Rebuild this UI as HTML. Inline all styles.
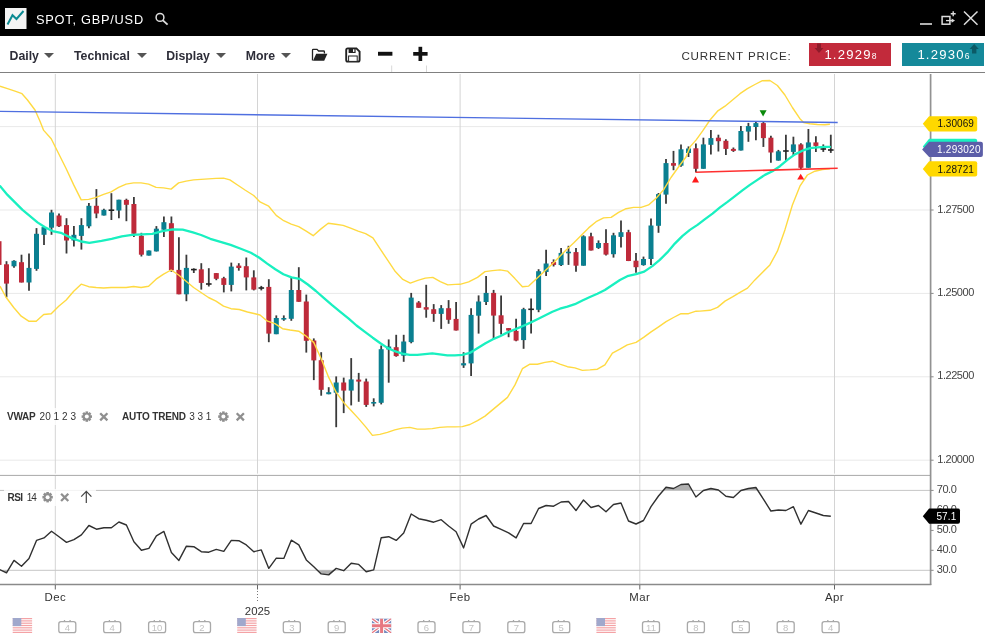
<!DOCTYPE html>
<html lang="en"><head><meta charset="utf-8"><title>SPOT, GBP/USD</title>
<style>
html,body{margin:0;padding:0;background:#fff;}
body{width:985px;height:637px;position:relative;overflow:hidden;font-family:"Liberation Sans",sans-serif;}
#titlebar{position:absolute;left:0;top:0;width:985px;height:35.7px;background:#000;}
#title{position:absolute;left:36px;top:12.7px;color:#fff;font-size:12.8px;letter-spacing:0.75px;line-height:14px;white-space:nowrap;}
#toolbar{position:absolute;left:0;top:35.7px;width:985px;height:36.4px;background:#fff;border-bottom:1.4px solid #808080;}
.tb{position:absolute;top:48.8px;font-weight:bold;font-size:12.3px;color:#2d2d38;line-height:15px;white-space:nowrap;}
.caret{position:absolute;top:53.3px;width:0;height:0;border-left:5px solid transparent;border-right:5px solid transparent;border-top:5px solid #555;}
#cp{position:absolute;left:681.4px;top:49.4px;font-size:11.6px;letter-spacing:0.85px;color:#333;line-height:14px;white-space:nowrap;}
.pbox{position:absolute;top:43.2px;height:22.5px;color:#fff;font-size:13.1px;line-height:22.5px;white-space:nowrap;letter-spacing:1.2px;}
.pbox small{font-size:8.6px;letter-spacing:0;}
svg{position:absolute;left:0;top:0;}
</style></head><body>
<div id="titlebar"></div>
<div id="title">SPOT, GBP/USD</div>
<div id="toolbar"></div>
<div class="tb" style="left:9.5px">Daily</div><div class="caret" style="left:44.4px"></div>
<div class="tb" style="left:74px">Technical</div><div class="caret" style="left:137px"></div>
<div class="tb" style="left:166.2px">Display</div><div class="caret" style="left:215.8px"></div>
<div class="tb" style="left:245.7px">More</div><div class="caret" style="left:281.3px"></div>
<div id="cp">CURRENT PRICE:</div>
<div class="pbox" style="left:809.4px;width:81.7px;background:#c22a3b;"><span style="position:absolute;left:15px;top:0.6px">1.2929<small>8</small></span></div>
<div class="pbox" style="left:902px;width:82.1px;background:#15899a;"><span style="position:absolute;left:15.4px;top:0.6px">1.2930<small>6</small></span></div>
<svg width="985" height="637" viewBox="0 0 985 637">
<!-- header icons -->
<rect x="5" y="8" width="21.5" height="21" fill="#f4f4f4"/>
<path d="M7.5 24.5 L12.5 15.2 L16.5 19 L23.5 11" fill="none" stroke="#0d8b93" stroke-width="2"/>
<circle cx="160" cy="17.4" r="3.9" fill="none" stroke="#ddd" stroke-width="1.5"/>
<path d="M162.9 20.4 L167.6 24.6" stroke="#ddd" stroke-width="1.9"/>
<path d="M920 24 H932" stroke="#ddd" stroke-width="1.6"/>
<rect x="942.1" y="16.5" width="7.8" height="7.7" fill="none" stroke="#ddd" stroke-width="1.5"/>
<path d="M946 20.6 H952" stroke="#ddd" stroke-width="1.3" fill="none"/><path d="M951.6 18.4 L955 20.6 L951.6 22.8 Z" fill="#ddd"/><path d="M953.2 11.2 V16.2 M950.7 13.7 H955.7" stroke="#ddd" stroke-width="1.4" fill="none"/>
<path d="M964 11.5 L977.5 24.8 M977.5 11.5 L964 24.8" stroke="#ddd" stroke-width="1.5"/>
<!-- toolbar icons -->
<path d="M312.5 60.6 V50.2 Q312.5 49.4 313.3 49.4 H317 L318.6 51 H323.6 Q324.4 51 324.4 51.8 V53.4" fill="none" stroke="#222" stroke-width="1.3"/>
<path d="M313 60.8 L316.2 53.8 H327.4 L324.2 60.8 Z" fill="#222"/>
<path d="M347.8 48.4 H356.4 L359.6 51.6 V60 Q359.6 61.6 358 61.6 H347.8 Q346.2 61.6 346.2 60 V50 Q346.2 48.4 347.8 48.4 Z" fill="none" stroke="#222" stroke-width="1.9"/>
<rect x="348.6" y="48.6" width="7" height="4.4" fill="#222"/><rect x="353" y="49.3" width="1.4" height="2.6" fill="#fff"/>
<rect x="348.6" y="56" width="8.6" height="5.4" fill="#fff" stroke="#222" stroke-width="1"/>
<rect x="378" y="51.8" width="14.4" height="3.9" fill="#111"/>
<rect x="413.2" y="52" width="14.4" height="3.7" fill="#111"/><rect x="418.5" y="46.8" width="3.7" height="14.2" fill="#111"/>
<path d="M391.7 65.5 V72 M426.5 65.5 V72" stroke="#d8d8d8" stroke-width="1"/>
<!-- price arrows -->
<path d="M817 43.6 H821 V48 H823.4 L819 53 L814.6 48 H817 Z" fill="#8e1c2b"/>
<path d="M972 53.5 H976.4 V49 H978.8 L974.2 44 L969.6 49 H972 Z" fill="#0b5a66"/>
<line x1="0" x2="930.6" y1="126.6" y2="126.6" stroke="#e9e9e9" stroke-width="1"/>
<line x1="0" x2="930.6" y1="210.0" y2="210.0" stroke="#e9e9e9" stroke-width="1"/>
<line x1="0" x2="930.6" y1="293.4" y2="293.4" stroke="#e9e9e9" stroke-width="1"/>
<line x1="0" x2="930.6" y1="376.8" y2="376.8" stroke="#e9e9e9" stroke-width="1"/>
<line x1="0" x2="930.6" y1="460.2" y2="460.2" stroke="#e9e9e9" stroke-width="1"/>
<line x1="55.3" x2="55.3" y1="74" y2="473.6" stroke="#d4d4d4" stroke-width="1"/>
<line x1="55.3" x2="55.3" y1="476" y2="584" stroke="#d4d4d4" stroke-width="1"/>
<line x1="257.5" x2="257.5" y1="74" y2="473.6" stroke="#d4d4d4" stroke-width="1"/>
<line x1="257.5" x2="257.5" y1="476" y2="584" stroke="#d4d4d4" stroke-width="1"/>
<line x1="460.1" x2="460.1" y1="74" y2="473.6" stroke="#d4d4d4" stroke-width="1"/>
<line x1="460.1" x2="460.1" y1="476" y2="584" stroke="#d4d4d4" stroke-width="1"/>
<line x1="639.8" x2="639.8" y1="74" y2="473.6" stroke="#d4d4d4" stroke-width="1"/>
<line x1="639.8" x2="639.8" y1="476" y2="584" stroke="#d4d4d4" stroke-width="1"/>
<line x1="834.5" x2="834.5" y1="74" y2="473.6" stroke="#d4d4d4" stroke-width="1"/>
<line x1="834.5" x2="834.5" y1="476" y2="584" stroke="#d4d4d4" stroke-width="1"/>
<line x1="0" x2="930.6" y1="475.4" y2="475.4" stroke="#a8a8a8" stroke-width="1"/>
<line x1="0" x2="930.6" y1="490.4" y2="490.4" stroke="#c6c6c6" stroke-width="1"/>
<line x1="0" x2="930.6" y1="570.3" y2="570.3" stroke="#c6c6c6" stroke-width="1"/>
<line x1="-1" x2="-1" y1="241.2" y2="264.9" stroke="#3a3a3a" stroke-width="1.8"/>
<rect x="-3.5" y="241.2" width="5" height="23.7" fill="#be2a3a"/>
<line x1="6.5" x2="6.5" y1="261.2" y2="297.4" stroke="#3a3a3a" stroke-width="1.8"/>
<rect x="4" y="264.3" width="5" height="19.3" fill="#be2a3a"/>
<line x1="14" x2="14" y1="260.2" y2="267.7" stroke="#3a3a3a" stroke-width="1.8"/>
<rect x="11.5" y="260.8" width="5" height="5.5" fill="#0a7f90"/>
<line x1="21.5" x2="21.5" y1="254.7" y2="282.5" stroke="#3a3a3a" stroke-width="1.8"/>
<rect x="19" y="262.2" width="5" height="20.3" fill="#be2a3a"/>
<line x1="29" x2="29" y1="253.5" y2="290.7" stroke="#3a3a3a" stroke-width="1.8"/>
<rect x="26.5" y="267.9" width="5" height="14.6" fill="#0a7f90"/>
<line x1="36.5" x2="36.5" y1="228.1" y2="270.8" stroke="#3a3a3a" stroke-width="1.8"/>
<rect x="34" y="233.8" width="5" height="35.1" fill="#0a7f90"/>
<line x1="44" x2="44" y1="227.1" y2="245" stroke="#3a3a3a" stroke-width="1.8"/>
<rect x="41.5" y="227.1" width="5" height="7.7" fill="#0a7f90"/>
<line x1="51.5" x2="51.5" y1="209.8" y2="234.8" stroke="#3a3a3a" stroke-width="1.8"/>
<rect x="49" y="212.5" width="5" height="15.2" fill="#0a7f90"/>
<line x1="59" x2="59" y1="213.5" y2="227.1" stroke="#3a3a3a" stroke-width="1.8"/>
<rect x="56.5" y="215.5" width="5" height="10.8" fill="#be2a3a"/>
<line x1="66.5" x2="66.5" y1="218.2" y2="253.5" stroke="#3a3a3a" stroke-width="1.8"/>
<rect x="64" y="225.1" width="5" height="15.4" fill="#be2a3a"/>
<line x1="73.9" x2="73.9" y1="226.1" y2="246.6" stroke="#3a3a3a" stroke-width="1.8"/>
<rect x="71.4" y="234.8" width="5" height="5.7" fill="#0a7f90"/>
<line x1="81.4" x2="81.4" y1="218.2" y2="249.6" stroke="#3a3a3a" stroke-width="1.8"/>
<rect x="78.9" y="225.1" width="5" height="10.8" fill="#0a7f90"/>
<line x1="88.9" x2="88.9" y1="202.9" y2="228.3" stroke="#3a3a3a" stroke-width="1.8"/>
<rect x="86.4" y="205.8" width="5" height="20.5" fill="#0a7f90"/>
<line x1="96.4" x2="96.4" y1="189.1" y2="218.2" stroke="#3a3a3a" stroke-width="1.8"/>
<rect x="93.9" y="205.8" width="5" height="7.7" fill="#be2a3a"/>
<line x1="103.9" x2="103.9" y1="208.8" y2="215.5" stroke="#3a3a3a" stroke-width="1.8"/>
<rect x="101.4" y="209.8" width="5" height="5.7" fill="#0a7f90"/>
<line x1="111.4" x2="111.4" y1="193.2" y2="220" stroke="#3a3a3a" stroke-width="1.8"/>
<line x1="108.6" x2="114.2" y1="210.2" y2="210.2" stroke="#222" stroke-width="1.6"/>
<line x1="118.9" x2="118.9" y1="199.7" y2="218.2" stroke="#3a3a3a" stroke-width="1.8"/>
<rect x="116.4" y="199.7" width="5" height="10.8" fill="#0a7f90"/>
<line x1="126.4" x2="126.4" y1="198.7" y2="221.2" stroke="#3a3a3a" stroke-width="1.8"/>
<rect x="123.9" y="199.9" width="5" height="4.9" fill="#be2a3a"/>
<line x1="133.9" x2="133.9" y1="196.9" y2="236.9" stroke="#3a3a3a" stroke-width="1.8"/>
<rect x="131.4" y="204" width="5" height="29.8" fill="#be2a3a"/>
<line x1="141.4" x2="141.4" y1="232.8" y2="256.5" stroke="#3a3a3a" stroke-width="1.8"/>
<rect x="138.9" y="235.8" width="5" height="18.9" fill="#be2a3a"/>
<line x1="148.9" x2="148.9" y1="250.5" y2="255.5" stroke="#3a3a3a" stroke-width="1.8"/>
<rect x="146.4" y="250.5" width="5" height="5.1" fill="#0a7f90"/>
<line x1="156.4" x2="156.4" y1="226.1" y2="251.5" stroke="#3a3a3a" stroke-width="1.8"/>
<rect x="153.9" y="228.7" width="5" height="22.7" fill="#0a7f90"/>
<line x1="163.9" x2="163.9" y1="216.5" y2="236.9" stroke="#3a3a3a" stroke-width="1.8"/>
<rect x="161.4" y="222.2" width="5" height="7.5" fill="#0a7f90"/>
<line x1="171.4" x2="171.4" y1="216.5" y2="271.8" stroke="#3a3a3a" stroke-width="1.8"/>
<rect x="168.9" y="223.2" width="5" height="47.1" fill="#be2a3a"/>
<line x1="178.9" x2="178.9" y1="237.3" y2="294.3" stroke="#3a3a3a" stroke-width="1.8"/>
<rect x="176.4" y="269.9" width="5" height="24.4" fill="#be2a3a"/>
<line x1="186.4" x2="186.4" y1="254.7" y2="301.2" stroke="#3a3a3a" stroke-width="1.8"/>
<rect x="183.9" y="267.9" width="5" height="26.4" fill="#0a7f90"/>
<line x1="193.8" x2="193.8" y1="268.3" y2="273" stroke="#3a3a3a" stroke-width="1.8"/>
<line x1="191" x2="196.7" y1="269.6" y2="269.6" stroke="#222" stroke-width="1.6"/>
<line x1="201.3" x2="201.3" y1="263.2" y2="289.6" stroke="#3a3a3a" stroke-width="1.8"/>
<rect x="198.8" y="269.3" width="5" height="13.6" fill="#be2a3a"/>
<line x1="208.8" x2="208.8" y1="268.2" y2="286.5" stroke="#3a3a3a" stroke-width="1.8"/>
<line x1="206" x2="211.6" y1="284" y2="284" stroke="#222" stroke-width="1.6"/>
<line x1="216.3" x2="216.3" y1="273.1" y2="280.2" stroke="#3a3a3a" stroke-width="1.8"/>
<rect x="213.8" y="273.1" width="5" height="5.7" fill="#be2a3a"/>
<line x1="223.8" x2="223.8" y1="276.8" y2="292.4" stroke="#3a3a3a" stroke-width="1.8"/>
<rect x="221.3" y="278.2" width="5" height="6.7" fill="#be2a3a"/>
<line x1="231.3" x2="231.3" y1="262.6" y2="291.4" stroke="#3a3a3a" stroke-width="1.8"/>
<rect x="228.8" y="266.6" width="5" height="18.3" fill="#0a7f90"/>
<line x1="238.8" x2="238.8" y1="263.2" y2="270.7" stroke="#3a3a3a" stroke-width="1.8"/>
<rect x="236.3" y="265.6" width="5" height="2.4" fill="#be2a3a"/>
<line x1="246.3" x2="246.3" y1="257.5" y2="290.4" stroke="#3a3a3a" stroke-width="1.8"/>
<rect x="243.8" y="266.2" width="5" height="11.2" fill="#be2a3a"/>
<line x1="253.8" x2="253.8" y1="270.3" y2="290.4" stroke="#3a3a3a" stroke-width="1.8"/>
<rect x="251.3" y="277.4" width="5" height="12.2" fill="#be2a3a"/>
<line x1="261.3" x2="261.3" y1="285.9" y2="290.4" stroke="#3a3a3a" stroke-width="1.8"/>
<line x1="258.5" x2="264.1" y1="288" y2="288" stroke="#222" stroke-width="1.6"/>
<line x1="268.8" x2="268.8" y1="279.2" y2="342.2" stroke="#3a3a3a" stroke-width="1.8"/>
<rect x="266.3" y="286.9" width="5" height="46.7" fill="#be2a3a"/>
<line x1="276.3" x2="276.3" y1="315.4" y2="334.2" stroke="#3a3a3a" stroke-width="1.8"/>
<rect x="273.8" y="318" width="5" height="16.2" fill="#0a7f90"/>
<line x1="283.8" x2="283.8" y1="315.4" y2="320.8" stroke="#3a3a3a" stroke-width="1.8"/>
<rect x="281.3" y="318" width="5" height="1.6" fill="#0a7f90"/>
<line x1="291.3" x2="291.3" y1="277.4" y2="320.8" stroke="#3a3a3a" stroke-width="1.8"/>
<rect x="288.8" y="290" width="5" height="28.8" fill="#0a7f90"/>
<line x1="298.8" x2="298.8" y1="267.2" y2="301.8" stroke="#3a3a3a" stroke-width="1.8"/>
<rect x="296.3" y="290" width="5" height="11.8" fill="#be2a3a"/>
<line x1="306.3" x2="306.3" y1="294.6" y2="352.6" stroke="#3a3a3a" stroke-width="1.8"/>
<rect x="303.8" y="301.5" width="5" height="39.3" fill="#be2a3a"/>
<line x1="313.8" x2="313.8" y1="338.4" y2="380.1" stroke="#3a3a3a" stroke-width="1.8"/>
<rect x="311.3" y="340.5" width="5" height="19.9" fill="#be2a3a"/>
<line x1="321.2" x2="321.2" y1="352.2" y2="395.7" stroke="#3a3a3a" stroke-width="1.8"/>
<rect x="318.7" y="360.2" width="5" height="29.6" fill="#be2a3a"/>
<line x1="328.7" x2="328.7" y1="387.2" y2="394.3" stroke="#3a3a3a" stroke-width="1.8"/>
<rect x="326.2" y="392.2" width="5" height="2" fill="#0a7f90"/>
<line x1="336.2" x2="336.2" y1="376.4" y2="427.2" stroke="#3a3a3a" stroke-width="1.8"/>
<rect x="333.7" y="382.5" width="5" height="10.2" fill="#0a7f90"/>
<line x1="343.7" x2="343.7" y1="377.6" y2="413.1" stroke="#3a3a3a" stroke-width="1.8"/>
<rect x="341.2" y="382.5" width="5" height="8.1" fill="#be2a3a"/>
<line x1="351.2" x2="351.2" y1="358.1" y2="405.4" stroke="#3a3a3a" stroke-width="1.8"/>
<rect x="348.7" y="379.4" width="5" height="11.2" fill="#0a7f90"/>
<line x1="358.7" x2="358.7" y1="372.9" y2="401.8" stroke="#3a3a3a" stroke-width="1.8"/>
<rect x="356.2" y="379.6" width="5" height="2" fill="#be2a3a"/>
<line x1="366.2" x2="366.2" y1="378.6" y2="406.9" stroke="#3a3a3a" stroke-width="1.8"/>
<rect x="363.7" y="381.5" width="5" height="23.4" fill="#be2a3a"/>
<line x1="373.7" x2="373.7" y1="398.3" y2="406.4" stroke="#3a3a3a" stroke-width="1.8"/>
<rect x="371.2" y="402" width="5" height="1.6" fill="#0a7f90"/>
<line x1="381.2" x2="381.2" y1="345.5" y2="404.4" stroke="#3a3a3a" stroke-width="1.8"/>
<rect x="378.7" y="349.2" width="5" height="53.6" fill="#0a7f90"/>
<line x1="388.7" x2="388.7" y1="339.4" y2="382.7" stroke="#3a3a3a" stroke-width="1.8"/>
<rect x="386.2" y="346.5" width="5" height="3" fill="#0a7f90"/>
<line x1="396.2" x2="396.2" y1="334.8" y2="356.7" stroke="#3a3a3a" stroke-width="1.8"/>
<rect x="393.7" y="347.2" width="5" height="8.9" fill="#be2a3a"/>
<line x1="403.7" x2="403.7" y1="334.8" y2="361.8" stroke="#3a3a3a" stroke-width="1.8"/>
<rect x="401.2" y="341.5" width="5" height="14.2" fill="#0a7f90"/>
<line x1="411.2" x2="411.2" y1="292.9" y2="343.3" stroke="#3a3a3a" stroke-width="1.8"/>
<rect x="408.7" y="297.6" width="5" height="44.5" fill="#0a7f90"/>
<line x1="418.7" x2="418.7" y1="301.1" y2="307.8" stroke="#3a3a3a" stroke-width="1.8"/>
<rect x="416.2" y="302.5" width="5" height="5.3" fill="#be2a3a"/>
<line x1="426.2" x2="426.2" y1="284.8" y2="317.7" stroke="#3a3a3a" stroke-width="1.8"/>
<rect x="423.7" y="307.2" width="5" height="2.4" fill="#be2a3a"/>
<line x1="433.7" x2="433.7" y1="304.1" y2="321.8" stroke="#3a3a3a" stroke-width="1.8"/>
<rect x="431.2" y="309.2" width="5" height="4.7" fill="#be2a3a"/>
<line x1="441.2" x2="441.2" y1="305.1" y2="328.9" stroke="#3a3a3a" stroke-width="1.8"/>
<rect x="438.7" y="308.2" width="5" height="5.7" fill="#0a7f90"/>
<line x1="448.6" x2="448.6" y1="300.1" y2="323.8" stroke="#3a3a3a" stroke-width="1.8"/>
<rect x="446.1" y="308.2" width="5" height="11.6" fill="#be2a3a"/>
<line x1="456.1" x2="456.1" y1="302.1" y2="330.5" stroke="#3a3a3a" stroke-width="1.8"/>
<rect x="453.6" y="318.9" width="5" height="11.6" fill="#be2a3a"/>
<line x1="463.6" x2="463.6" y1="352.2" y2="367.9" stroke="#3a3a3a" stroke-width="1.8"/>
<rect x="461.1" y="363.2" width="5" height="2.2" fill="#0a7f90"/>
<line x1="471.1" x2="471.1" y1="308.2" y2="376" stroke="#3a3a3a" stroke-width="1.8"/>
<rect x="468.6" y="314.9" width="5" height="48.5" fill="#0a7f90"/>
<line x1="478.6" x2="478.6" y1="295.4" y2="333.6" stroke="#3a3a3a" stroke-width="1.8"/>
<rect x="476.1" y="301.5" width="5" height="14.2" fill="#0a7f90"/>
<line x1="486.1" x2="486.1" y1="276.1" y2="305.1" stroke="#3a3a3a" stroke-width="1.8"/>
<rect x="483.6" y="292.9" width="5" height="9.1" fill="#0a7f90"/>
<line x1="493.6" x2="493.6" y1="289.9" y2="339" stroke="#3a3a3a" stroke-width="1.8"/>
<rect x="491.1" y="292.9" width="5" height="22.7" fill="#be2a3a"/>
<line x1="501.1" x2="501.1" y1="295.4" y2="334.6" stroke="#3a3a3a" stroke-width="1.8"/>
<rect x="498.6" y="315.3" width="5" height="8.5" fill="#be2a3a"/>
<line x1="508.6" x2="508.6" y1="328.1" y2="337.2" stroke="#3a3a3a" stroke-width="1.8"/>
<rect x="506.1" y="328.1" width="5" height="2.4" fill="#be2a3a"/>
<line x1="516.1" x2="516.1" y1="318.7" y2="341.3" stroke="#3a3a3a" stroke-width="1.8"/>
<rect x="513.6" y="330.9" width="5" height="9.7" fill="#be2a3a"/>
<line x1="523.6" x2="523.6" y1="307.8" y2="348.8" stroke="#3a3a3a" stroke-width="1.8"/>
<rect x="521.1" y="309.2" width="5" height="30.9" fill="#0a7f90"/>
<line x1="531.1" x2="531.1" y1="298.4" y2="333.6" stroke="#3a3a3a" stroke-width="1.8"/>
<line x1="528.3" x2="533.9" y1="309.3" y2="309.3" stroke="#222" stroke-width="1.6"/>
<line x1="538.6" x2="538.6" y1="269.2" y2="312.2" stroke="#3a3a3a" stroke-width="1.8"/>
<rect x="536.1" y="271.2" width="5" height="38.6" fill="#0a7f90"/>
<line x1="546.1" x2="546.1" y1="249.7" y2="276.1" stroke="#3a3a3a" stroke-width="1.8"/>
<rect x="543.6" y="263.5" width="5" height="8.5" fill="#0a7f90"/>
<line x1="553.6" x2="553.6" y1="259.4" y2="266.5" stroke="#3a3a3a" stroke-width="1.8"/>
<rect x="551.1" y="262.1" width="5" height="2.8" fill="#be2a3a"/>
<line x1="561.1" x2="561.1" y1="247.9" y2="266.1" stroke="#3a3a3a" stroke-width="1.8"/>
<rect x="558.6" y="252.9" width="5" height="12.2" fill="#0a7f90"/>
<line x1="568.5" x2="568.5" y1="245.8" y2="264.9" stroke="#3a3a3a" stroke-width="1.8"/>
<rect x="566" y="251.7" width="5" height="1.6" fill="#0a7f90"/>
<line x1="576" x2="576" y1="248.1" y2="271.8" stroke="#3a3a3a" stroke-width="1.8"/>
<rect x="573.5" y="252.1" width="5" height="13.6" fill="#be2a3a"/>
<line x1="583.5" x2="583.5" y1="235.3" y2="265.7" stroke="#3a3a3a" stroke-width="1.8"/>
<rect x="581" y="236.3" width="5" height="29.4" fill="#0a7f90"/>
<line x1="591" x2="591" y1="232.8" y2="250.5" stroke="#3a3a3a" stroke-width="1.8"/>
<rect x="588.5" y="236.3" width="5" height="14.2" fill="#be2a3a"/>
<line x1="598.5" x2="598.5" y1="240.4" y2="248.9" stroke="#3a3a3a" stroke-width="1.8"/>
<rect x="596" y="243" width="5" height="4.9" fill="#0a7f90"/>
<line x1="606" x2="606" y1="229.2" y2="255.6" stroke="#3a3a3a" stroke-width="1.8"/>
<rect x="603.5" y="243" width="5" height="11.6" fill="#be2a3a"/>
<line x1="613.5" x2="613.5" y1="232.8" y2="257.6" stroke="#3a3a3a" stroke-width="1.8"/>
<rect x="611" y="235.3" width="5" height="18.9" fill="#0a7f90"/>
<line x1="621" x2="621" y1="220.5" y2="247.5" stroke="#3a3a3a" stroke-width="1.8"/>
<rect x="618.5" y="232.2" width="5" height="4.7" fill="#0a7f90"/>
<line x1="628.5" x2="628.5" y1="229.8" y2="261.1" stroke="#3a3a3a" stroke-width="1.8"/>
<rect x="626" y="232.2" width="5" height="28.8" fill="#be2a3a"/>
<line x1="636" x2="636" y1="252.9" y2="272.8" stroke="#3a3a3a" stroke-width="1.8"/>
<rect x="633.5" y="260.7" width="5" height="6.5" fill="#be2a3a"/>
<line x1="643.5" x2="643.5" y1="256.6" y2="265.7" stroke="#3a3a3a" stroke-width="1.8"/>
<rect x="641" y="259" width="5" height="6.1" fill="#0a7f90"/>
<line x1="651" x2="651" y1="218.4" y2="265.1" stroke="#3a3a3a" stroke-width="1.8"/>
<rect x="648.5" y="225.5" width="5" height="33.5" fill="#0a7f90"/>
<line x1="658.5" x2="658.5" y1="193" y2="232.8" stroke="#3a3a3a" stroke-width="1.8"/>
<rect x="656" y="194.1" width="5" height="31.7" fill="#0a7f90"/>
<line x1="666" x2="666" y1="159" y2="203.7" stroke="#3a3a3a" stroke-width="1.8"/>
<rect x="663.5" y="163.1" width="5" height="31.5" fill="#0a7f90"/>
<line x1="673.5" x2="673.5" y1="150.9" y2="170.2" stroke="#3a3a3a" stroke-width="1.8"/>
<rect x="671" y="163.1" width="5" height="2.6" fill="#be2a3a"/>
<line x1="681" x2="681" y1="144.4" y2="166.8" stroke="#3a3a3a" stroke-width="1.8"/>
<rect x="678.5" y="149.3" width="5" height="16.4" fill="#0a7f90"/>
<line x1="688.5" x2="688.5" y1="146.4" y2="157" stroke="#3a3a3a" stroke-width="1.8"/>
<rect x="686" y="148.5" width="5" height="4.5" fill="#0a7f90"/>
<line x1="695.9" x2="695.9" y1="143.4" y2="172.2" stroke="#3a3a3a" stroke-width="1.8"/>
<rect x="693.4" y="148.3" width="5" height="20.5" fill="#be2a3a"/>
<line x1="703.4" x2="703.4" y1="137.7" y2="168.8" stroke="#3a3a3a" stroke-width="1.8"/>
<rect x="700.9" y="144.4" width="5" height="24.4" fill="#0a7f90"/>
<line x1="710.9" x2="710.9" y1="130" y2="154.6" stroke="#3a3a3a" stroke-width="1.8"/>
<rect x="708.4" y="138.1" width="5" height="6.7" fill="#0a7f90"/>
<line x1="718.4" x2="718.4" y1="134.7" y2="151.5" stroke="#3a3a3a" stroke-width="1.8"/>
<rect x="715.9" y="137.7" width="5" height="3.5" fill="#be2a3a"/>
<line x1="725.9" x2="725.9" y1="139.3" y2="155" stroke="#3a3a3a" stroke-width="1.8"/>
<rect x="723.4" y="140.8" width="5" height="8.1" fill="#be2a3a"/>
<line x1="733.4" x2="733.4" y1="147.5" y2="151.9" stroke="#3a3a3a" stroke-width="1.8"/>
<rect x="730.9" y="148.9" width="5" height="2" fill="#be2a3a"/>
<line x1="740.9" x2="740.9" y1="126.1" y2="150.5" stroke="#3a3a3a" stroke-width="1.8"/>
<rect x="738.4" y="131" width="5" height="19.5" fill="#0a7f90"/>
<line x1="748.4" x2="748.4" y1="122.9" y2="141.8" stroke="#3a3a3a" stroke-width="1.8"/>
<rect x="745.9" y="126.1" width="5" height="5.5" fill="#0a7f90"/>
<line x1="755.9" x2="755.9" y1="121.5" y2="140.2" stroke="#3a3a3a" stroke-width="1.8"/>
<rect x="753.4" y="123.1" width="5" height="3.9" fill="#0a7f90"/>
<line x1="763.4" x2="763.4" y1="121.9" y2="146.9" stroke="#3a3a3a" stroke-width="1.8"/>
<rect x="760.9" y="123.1" width="5" height="15" fill="#be2a3a"/>
<line x1="770.9" x2="770.9" y1="135.7" y2="162.7" stroke="#3a3a3a" stroke-width="1.8"/>
<rect x="768.4" y="137.7" width="5" height="14.8" fill="#be2a3a"/>
<line x1="778.4" x2="778.4" y1="149.9" y2="160.7" stroke="#3a3a3a" stroke-width="1.8"/>
<rect x="775.9" y="151.3" width="5" height="9.3" fill="#0a7f90"/>
<line x1="785.9" x2="785.9" y1="134.7" y2="160.7" stroke="#3a3a3a" stroke-width="1.8"/>
<line x1="783.1" x2="788.7" y1="151" y2="151" stroke="#222" stroke-width="1.6"/>
<line x1="793.4" x2="793.4" y1="136.7" y2="155.6" stroke="#3a3a3a" stroke-width="1.8"/>
<rect x="790.9" y="144.4" width="5" height="7.5" fill="#0a7f90"/>
<line x1="800.9" x2="800.9" y1="143.2" y2="169.2" stroke="#3a3a3a" stroke-width="1.8"/>
<rect x="798.4" y="144.4" width="5" height="23.4" fill="#be2a3a"/>
<line x1="808.4" x2="808.4" y1="129" y2="167.8" stroke="#3a3a3a" stroke-width="1.8"/>
<rect x="805.9" y="142.4" width="5" height="25.4" fill="#0a7f90"/>
<line x1="815.9" x2="815.9" y1="136.3" y2="151.9" stroke="#3a3a3a" stroke-width="1.8"/>
<rect x="813.4" y="142.4" width="5" height="3.5" fill="#be2a3a"/>
<line x1="823.3" x2="823.3" y1="144.4" y2="151.9" stroke="#3a3a3a" stroke-width="1.8"/>
<line x1="820.5" x2="826.1" y1="149" y2="149" stroke="#222" stroke-width="1.6"/>
<line x1="830.8" x2="830.8" y1="134.7" y2="152.9" stroke="#3a3a3a" stroke-width="1.8"/>
<line x1="828" x2="833.6" y1="150" y2="150" stroke="#222" stroke-width="1.6"/>
<path d="M0 86.2 L7.5 88.7 L15 91.2 L22 93.7 L27.5 100 L35 110 L40 121.2 L43.7 130.4 L51.2 138.7 L58.7 153.7 L66.2 168.7 L73.7 184.9 L81.2 199.9 L88.7 199.4 L96.2 197.4 L103.6 194.4 L111.1 191.9 L118.6 187.4 L126.1 184.1 L133.6 182.9 L141.1 182.9 L148.6 184.1 L156.1 187.4 L163.6 187.9 L171.1 189.1 L178.6 182.9 L186.1 181.1 L193.6 179.9 L201 179.4 L208.5 178.9 L216 178.4 L223.5 178.1 L229.9 179.9 L237.5 185 L245 190 L253.7 195.5 L260 201.9 L268.7 206.2 L276.2 215.4 L283.7 220.7 L291.2 224.2 L298.7 226.7 L306.2 231.2 L313.2 235.7 L320.4 229.4 L328.2 223.2 L335.6 224.2 L343.1 225.4 L350.6 228.2 L358.1 231.2 L365.6 233.7 L372.9 237.9 L380.3 249.2 L387.8 260.4 L395.3 271.6 L402.8 279.4 L410.3 283.1 L417.8 280.4 L425.3 278.1 L432.8 277.4 L440.3 281.6 L447.8 284.9 L455.3 284.4 L460 284.3 L468.7 281.8 L477.5 277.4 L485 271.6 L492.5 270.6 L500 269.9 L507.5 271.1 L514.9 278.6 L522.4 286.8 L528.7 286.1 L536.2 279.1 L543.7 271.9 L551.2 264.9 L558.7 257.4 L566.1 249.9 L573.6 243.1 L581.1 235.4 L588.6 227.9 L596.1 221.7 L603.6 217.9 L611.1 217.4 L618.6 212.4 L626.1 208.7 L633.6 207.4 L641.1 207.4 L648.6 204.9 L656.1 198.2 L663.5 189.9 L671 177.5 L678.5 167 L686 157 L690 146.9 L696.2 139.9 L702.5 131.2 L710 120 L717.5 111.2 L725 106.2 L732.5 100 L740 93.7 L747.4 88.7 L754.9 84.5 L762.4 80.7 L769.9 80.5 L777.4 85.5 L784.9 95 L792.4 107.5 L799.9 118.7 L803.6 122.5 L809.9 123.7 L817.4 124.5 L824.9 124.7 L829.9 124.2" fill="none" stroke="#ffda42" stroke-width="1.4" stroke-linejoin="round"/>
<path d="M0 286.2 L6.2 297.5 L13.7 307.5 L21.2 316.2 L28.7 321.2 L36.2 321.2 L43.7 314.5 L51.2 313.7 L58.7 306.2 L66.2 300 L73.7 291.2 L81.2 284.2 L88.7 286.7 L96.2 287.5 L103.6 288 L111.1 287.5 L118.6 287.5 L126.1 287.5 L133.6 286.5 L141.1 287.5 L148.6 286.2 L156.1 279.2 L163.6 274.2 L171.1 270 L178.6 275 L186.1 281.2 L193.6 287.5 L201 292.5 L208.5 297.5 L216 301.2 L223.5 306.2 L231 308.7 L239.3 309.5 L247.5 312 L255 313.7 L260 315 L267.5 321.2 L275 323.7 L282.5 328.7 L290 330 L298.7 331.2 L306.2 336.2 L313.7 342.4 L321.2 358.7 L328.7 377.4 L336.2 392.4 L343.6 402.4 L351.1 410.4 L358.6 418.6 L366.1 427.4 L372.4 435.4 L379.9 434.4 L387.4 432.4 L394.8 429.9 L402.3 428.1 L409.8 427.4 L417.3 429.1 L424.8 429.1 L432.3 428.6 L439.8 427.4 L447.3 426.9 L454.8 426.9 L462.3 426.6 L469.9 424.5 L477.5 420.6 L485 416.1 L492.5 409.9 L500 403.6 L507.5 397.4 L515 384.9 L522.4 368.7 L529.9 364.2 L537.4 364.2 L544.9 362.4 L552.4 361.2 L559.9 364.2 L567.4 366.7 L574.9 367.9 L582.4 370.4 L589.9 369.9 L597.4 369.2 L604.9 364.9 L612.4 353.2 L619.9 349.2 L627.3 344.9 L636.1 342.4 L643.6 337.4 L651.1 331.9 L658.6 326.9 L666.1 321.7 L673.5 317.5 L681 313.7 L688.5 313.7 L696 311.2 L700 311.1 L710 310.3 L717.5 307.4 L725 301.1 L732.5 296.9 L740 292.4 L747.5 288.1 L754.9 279.9 L762.4 272.4 L769.9 264.9 L777.4 251.2 L784.9 229.9 L792.4 205 L799.9 186.2 L807.4 175 L814.9 171.2 L822.4 169.5 L829.9 168.7" fill="none" stroke="#ffda42" stroke-width="1.4" stroke-linejoin="round"/>
<path d="M0 186.1 L7.5 194.9 L15 202.4 L22.5 209.9 L30 216.1 L37.5 222.4 L45 227.3 L52.4 231.1 L60.9 232.8 L71.1 237.9 L81.2 241.5 L89.3 242.9 L101.5 240.9 L111.7 238.9 L121.8 236.4 L132 234.8 L142.1 234.4 L152.3 233.8 L162.4 231.2 L172.6 229.3 L182.7 229.7 L192.9 232.4 L201.1 235 L210.3 238.8 L220.5 241.9 L230.6 244.9 L240.8 248.8 L250.9 252.8 L259 257.5 L267.2 263.6 L275.3 269.3 L283.4 274.3 L291.5 277.4 L299.6 278.8 L307.8 284.5 L315.9 291 L324 298.1 L332.1 305.2 L340.3 311.9 L348.4 318.4 L356.5 325.5 L364.6 331.6 L372.7 337.7 L380.4 343.2 L387.4 347.9 L394.8 351.2 L402.3 353.7 L409.8 354.9 L417.3 354.9 L424.8 354.2 L432.3 353.4 L439.8 354.4 L447.3 355.4 L454.8 355.4 L462.3 354.9 L469.8 352.9 L477.4 348.3 L485.5 343.2 L492.5 339.4 L500 336.2 L507.5 332.4 L515 329.4 L522.4 326.2 L529.9 322.9 L537.4 319.2 L544.9 315.5 L552.4 311.7 L559.9 308.7 L567.4 306.7 L574.9 304.2 L582.4 300.5 L589.9 297 L597.4 293.7 L604.9 290 L612.4 285 L619.9 280 L627.3 276.2 L636.1 274.2 L644.2 271.6 L652.3 266.1 L659.8 259.9 L667.3 252.4 L674.8 243.6 L682.3 236.1 L689.9 229.9 L697.5 224.9 L705 219.1 L712.5 213.6 L720 207.4 L727.5 201.9 L735 196.1 L742.4 190.4 L749.9 184.9 L757.4 179.9 L764.9 174.9 L772.4 171.2 L779.9 166.2 L787.4 159.9 L794.9 154.4 L802.4 150.7 L809.9 148.2 L817.4 147.4 L824.9 146.9 L829.9 146.9" fill="none" stroke="#19f0c0" stroke-width="2.3" stroke-linejoin="round" stroke-linecap="round"/>
<line x1="0" y1="111.4" x2="837.7" y2="122.5" stroke="#4f6fe0" stroke-width="1.4"/>
<line x1="695.5" y1="172.2" x2="837.7" y2="168.2" stroke="#ff3030" stroke-width="1.6"/>
<polygon points="759.6,110.3 766.6,110.3 763.1,116.6" fill="#0b8a0b"/>
<polygon points="695.5,176.3 692,182.6 699,182.6" fill="#ff1a1a"/>
<polygon points="800.7,173.7 797.2,179.6 804.2,179.6" fill="#ff1a1a"/>
<clipPath id="c70"><rect x="0" y="476" width="930.6" height="14.399999999999977"/></clipPath>
<clipPath id="c30"><rect x="0" y="570.3" width="930.6" height="13.700000000000045"/></clipPath>
<path d="M-1 569.2 L6.5 572.9 L14 560.4 L21.5 566.2 L29 558.4 L36.5 540.4 L44 537.9 L51.5 531.2 L59 536.7 L66.5 542.4 L73.9 539.7 L81.4 534.9 L88.9 525.5 L96.4 529.2 L103.9 527.7 L111.4 527.7 L118.9 522 L126.4 525 L133.9 541.7 L141.4 550.2 L148.9 548.4 L156.4 535.9 L163.9 531.4 L171.4 552.4 L178.9 560.4 L186.4 546.2 L193.8 546.7 L201.3 551.7 L208.8 552.2 L216.3 549.4 L223.8 551.4 L231.3 540.4 L238.8 540.7 L246.3 544.9 L253.8 551.7 L261.3 549.9 L268.8 568.4 L276.3 558.2 L283.8 558.4 L291.3 540.2 L298.8 544.9 L306.3 559.9 L313.8 566.7 L321.2 573.9 L328.7 574.9 L336.2 568.4 L343.7 570.7 L351.2 563.2 L358.7 564.4 L366.2 571.7 L373.7 569.9 L381.2 537.7 L388.7 536.7 L396.2 540.4 L403.7 532.9 L411.2 514 L418.7 518.7 L426.2 520.2 L433.7 522.2 L441.2 519.7 L448.6 526 L456.1 531.7 L463.6 547.9 L471.1 524.2 L478.6 519 L486.1 515.5 L493.6 526 L501.1 529.4 L508.6 532.9 L516.1 537.9 L523.6 523.5 L531.1 523.5 L538.6 508.5 L546.1 505.5 L553.6 506.2 L561.1 502 L568.5 501.5 L576 510.5 L583.5 500 L591 507.5 L598.5 505.5 L606 511.7 L613.5 504.5 L621 503 L628.5 521 L636 524 L643.5 520.5 L651 506.7 L658.5 496 L666 487.2 L673.5 488.5 L681 484.5 L688.5 484 L695.9 497 L703.4 490.5 L710.9 488.5 L718.4 490 L725.9 496.2 L733.4 497.5 L740.9 490.5 L748.4 488.5 L755.9 487.5 L763.4 499.2 L770.9 511 L778.4 510 L785.9 510.5 L793.4 506.7 L800.9 524.2 L808.4 510.5 L815.9 513 L823.3 515.5 L830.8 516.2 L830.8 490.4 L-1 490.4 Z" fill="#b0b0b0" clip-path="url(#c70)"/>
<path d="M-1 569.2 L6.5 572.9 L14 560.4 L21.5 566.2 L29 558.4 L36.5 540.4 L44 537.9 L51.5 531.2 L59 536.7 L66.5 542.4 L73.9 539.7 L81.4 534.9 L88.9 525.5 L96.4 529.2 L103.9 527.7 L111.4 527.7 L118.9 522 L126.4 525 L133.9 541.7 L141.4 550.2 L148.9 548.4 L156.4 535.9 L163.9 531.4 L171.4 552.4 L178.9 560.4 L186.4 546.2 L193.8 546.7 L201.3 551.7 L208.8 552.2 L216.3 549.4 L223.8 551.4 L231.3 540.4 L238.8 540.7 L246.3 544.9 L253.8 551.7 L261.3 549.9 L268.8 568.4 L276.3 558.2 L283.8 558.4 L291.3 540.2 L298.8 544.9 L306.3 559.9 L313.8 566.7 L321.2 573.9 L328.7 574.9 L336.2 568.4 L343.7 570.7 L351.2 563.2 L358.7 564.4 L366.2 571.7 L373.7 569.9 L381.2 537.7 L388.7 536.7 L396.2 540.4 L403.7 532.9 L411.2 514 L418.7 518.7 L426.2 520.2 L433.7 522.2 L441.2 519.7 L448.6 526 L456.1 531.7 L463.6 547.9 L471.1 524.2 L478.6 519 L486.1 515.5 L493.6 526 L501.1 529.4 L508.6 532.9 L516.1 537.9 L523.6 523.5 L531.1 523.5 L538.6 508.5 L546.1 505.5 L553.6 506.2 L561.1 502 L568.5 501.5 L576 510.5 L583.5 500 L591 507.5 L598.5 505.5 L606 511.7 L613.5 504.5 L621 503 L628.5 521 L636 524 L643.5 520.5 L651 506.7 L658.5 496 L666 487.2 L673.5 488.5 L681 484.5 L688.5 484 L695.9 497 L703.4 490.5 L710.9 488.5 L718.4 490 L725.9 496.2 L733.4 497.5 L740.9 490.5 L748.4 488.5 L755.9 487.5 L763.4 499.2 L770.9 511 L778.4 510 L785.9 510.5 L793.4 506.7 L800.9 524.2 L808.4 510.5 L815.9 513 L823.3 515.5 L830.8 516.2 L830.8 490.4 L-1 490.4 Z" fill="#b0b0b0" clip-path="url(#c30)"/>
<path d="M-1 569.2 L6.5 572.9 L14 560.4 L21.5 566.2 L29 558.4 L36.5 540.4 L44 537.9 L51.5 531.2 L59 536.7 L66.5 542.4 L73.9 539.7 L81.4 534.9 L88.9 525.5 L96.4 529.2 L103.9 527.7 L111.4 527.7 L118.9 522 L126.4 525 L133.9 541.7 L141.4 550.2 L148.9 548.4 L156.4 535.9 L163.9 531.4 L171.4 552.4 L178.9 560.4 L186.4 546.2 L193.8 546.7 L201.3 551.7 L208.8 552.2 L216.3 549.4 L223.8 551.4 L231.3 540.4 L238.8 540.7 L246.3 544.9 L253.8 551.7 L261.3 549.9 L268.8 568.4 L276.3 558.2 L283.8 558.4 L291.3 540.2 L298.8 544.9 L306.3 559.9 L313.8 566.7 L321.2 573.9 L328.7 574.9 L336.2 568.4 L343.7 570.7 L351.2 563.2 L358.7 564.4 L366.2 571.7 L373.7 569.9 L381.2 537.7 L388.7 536.7 L396.2 540.4 L403.7 532.9 L411.2 514 L418.7 518.7 L426.2 520.2 L433.7 522.2 L441.2 519.7 L448.6 526 L456.1 531.7 L463.6 547.9 L471.1 524.2 L478.6 519 L486.1 515.5 L493.6 526 L501.1 529.4 L508.6 532.9 L516.1 537.9 L523.6 523.5 L531.1 523.5 L538.6 508.5 L546.1 505.5 L553.6 506.2 L561.1 502 L568.5 501.5 L576 510.5 L583.5 500 L591 507.5 L598.5 505.5 L606 511.7 L613.5 504.5 L621 503 L628.5 521 L636 524 L643.5 520.5 L651 506.7 L658.5 496 L666 487.2 L673.5 488.5 L681 484.5 L688.5 484 L695.9 497 L703.4 490.5 L710.9 488.5 L718.4 490 L725.9 496.2 L733.4 497.5 L740.9 490.5 L748.4 488.5 L755.9 487.5 L763.4 499.2 L770.9 511 L778.4 510 L785.9 510.5 L793.4 506.7 L800.9 524.2 L808.4 510.5 L815.9 513 L823.3 515.5 L830.8 516.2" fill="none" stroke="#303030" stroke-width="1.4" stroke-linejoin="round"/>
<line x1="930.6" x2="930.6" y1="74" y2="585" stroke="#929292" stroke-width="1.7"/>
<line x1="0" x2="931.3000000000001" y1="584.5" y2="584.5" stroke="#8a8a8a" stroke-width="1.4"/>
<line x1="930.6" x2="933.6" y1="210.0" y2="210.0" stroke="#8a8a8a" stroke-width="1"/>
<text x="937.3" y="212.5" font-family="Liberation Sans, sans-serif" font-size="11" fill="#444" textLength="37">1.27500</text>
<line x1="930.6" x2="933.6" y1="293.4" y2="293.4" stroke="#8a8a8a" stroke-width="1"/>
<text x="937.3" y="295.9" font-family="Liberation Sans, sans-serif" font-size="11" fill="#444" textLength="37">1.25000</text>
<line x1="930.6" x2="933.6" y1="376.8" y2="376.8" stroke="#8a8a8a" stroke-width="1"/>
<text x="937.3" y="379.3" font-family="Liberation Sans, sans-serif" font-size="11" fill="#444" textLength="37">1.22500</text>
<line x1="930.6" x2="933.6" y1="460.2" y2="460.2" stroke="#8a8a8a" stroke-width="1"/>
<text x="937.3" y="462.7" font-family="Liberation Sans, sans-serif" font-size="11" fill="#444" textLength="37">1.20000</text>
<line x1="930.6" x2="933.6" y1="490.4" y2="490.4" stroke="#8a8a8a" stroke-width="1"/>
<text x="936.8" y="492.7" font-family="Liberation Sans, sans-serif" font-size="11" fill="#444" textLength="20">70.0</text>
<line x1="930.6" x2="933.6" y1="510.4" y2="510.4" stroke="#8a8a8a" stroke-width="1"/>
<text x="936.8" y="512.6999999999999" font-family="Liberation Sans, sans-serif" font-size="11" fill="#444" textLength="20">60.0</text>
<line x1="930.6" x2="933.6" y1="530.4" y2="530.4" stroke="#8a8a8a" stroke-width="1"/>
<text x="936.8" y="532.6999999999999" font-family="Liberation Sans, sans-serif" font-size="11" fill="#444" textLength="20">50.0</text>
<line x1="930.6" x2="933.6" y1="550.3" y2="550.3" stroke="#8a8a8a" stroke-width="1"/>
<text x="936.8" y="552.5999999999999" font-family="Liberation Sans, sans-serif" font-size="11" fill="#444" textLength="20">40.0</text>
<line x1="930.6" x2="933.6" y1="570.3" y2="570.3" stroke="#8a8a8a" stroke-width="1"/>
<text x="936.8" y="572.5999999999999" font-family="Liberation Sans, sans-serif" font-size="11" fill="#444" textLength="20">30.0</text>
<path d="M922.8 123.8 L929.1 116.2 L975.2 116.2 Q977.2 116.2 977.2 118.2 L977.2 129.4 Q977.2 131.4 975.2 131.4 L929.1 131.4 Z" fill="#ffd800"/><text x="937.4" y="127.4" font-family="Liberation Sans, sans-serif" font-size="10" fill="#111" textLength="36.4">1.30069</text>
<path d="M922.8 146.4 L929.1 138.8 L975.2 138.8 Q977.2 138.8 977.2 140.8 L977.2 152 Q977.2 154 975.2 154 L929.1 154 Z" fill="#19f0c0"/>
<path d="M922.1 149.4 L929.1 141.7 L980.9 141.7 Q982.9 141.7 982.9 143.7 L982.9 155.1 Q982.9 157.1 980.9 157.1 L929.1 157.1 Z" fill="#5c5ea8"/><text x="937" y="153" font-family="Liberation Sans, sans-serif" font-size="10" fill="#fff" textLength="43.5">1.293020</text>
<path d="M922.8 168.9 L929.1 161.3 L975.2 161.3 Q977.2 161.3 977.2 163.3 L977.2 174.5 Q977.2 176.5 975.2 176.5 L929.1 176.5 Z" fill="#ffd800"/><text x="937.4" y="172.5" font-family="Liberation Sans, sans-serif" font-size="10" fill="#111" textLength="36.4">1.28721</text>
<path d="M922.8 516.2 L929.1 508.6 L958 508.6 Q960 508.6 960 510.6 L960 521.8 Q960 523.8 958 523.8 L929.1 523.8 Z" fill="#000"/><text x="936.4" y="519.8" font-family="Liberation Sans, sans-serif" font-size="10" fill="#fff" textLength="19.8">57.1</text>
<line x1="55.3" x2="55.3" y1="585" y2="589.5" stroke="#666" stroke-width="1"/>
<text x="55.3" y="601" font-family="Liberation Sans, sans-serif" font-size="11.4" fill="#333" text-anchor="middle" letter-spacing="0.5">Dec</text>
<line x1="460.1" x2="460.1" y1="585" y2="589.5" stroke="#666" stroke-width="1"/>
<text x="460.1" y="601" font-family="Liberation Sans, sans-serif" font-size="11.4" fill="#333" text-anchor="middle" letter-spacing="0.5">Feb</text>
<line x1="639.8" x2="639.8" y1="585" y2="589.5" stroke="#666" stroke-width="1"/>
<text x="639.8" y="601" font-family="Liberation Sans, sans-serif" font-size="11.4" fill="#333" text-anchor="middle" letter-spacing="0.5">Mar</text>
<line x1="834.5" x2="834.5" y1="585" y2="589.5" stroke="#666" stroke-width="1"/>
<text x="834.5" y="601" font-family="Liberation Sans, sans-serif" font-size="11.4" fill="#333" text-anchor="middle" letter-spacing="0.5">Apr</text>
<line x1="257.5" x2="257.5" y1="585" y2="589.5" stroke="#666" stroke-width="1"/>
<line x1="257.5" x2="257.5" y1="591" y2="603" stroke="#777" stroke-width="1" stroke-dasharray="1 2"/>
<text x="257.5" y="614.8" font-family="Liberation Sans, sans-serif" font-size="11.4" fill="#333" text-anchor="middle">2025</text>
<g opacity="0.45"><rect x="12.7" y="618" width="19.4" height="15" fill="#fff"/><rect x="12.7" y="618" width="19.4" height="1.2" fill="#e8333a"/><rect x="12.7" y="620.3" width="19.4" height="1.2" fill="#e8333a"/><rect x="12.7" y="622.6" width="19.4" height="1.2" fill="#e8333a"/><rect x="12.7" y="624.9" width="19.4" height="1.2" fill="#e8333a"/><rect x="12.7" y="627.2" width="19.4" height="1.2" fill="#e8333a"/><rect x="12.7" y="629.5" width="19.4" height="1.2" fill="#e8333a"/><rect x="12.7" y="631.8" width="19.4" height="1.2" fill="#e8333a"/><rect x="12.7" y="618" width="8.6" height="8.1" fill="#2f3f8f"/></g>
<rect x="58.8" y="621.7" width="17" height="10.9" rx="2.2" fill="#fff" stroke="#a9a9a9" stroke-width="1.3"/><path d="M64.5 620 V621.7 M70.1 620 V621.7" stroke="#a9a9a9" stroke-width="1.3"/><text x="67.3" y="630.6" font-family="Liberation Sans, sans-serif" font-size="9.5" fill="#c2c2c2" text-anchor="middle">4</text>
<rect x="103.7" y="621.7" width="17" height="10.9" rx="2.2" fill="#fff" stroke="#a9a9a9" stroke-width="1.3"/><path d="M109.4 620 V621.7 M115 620 V621.7" stroke="#a9a9a9" stroke-width="1.3"/><text x="112.2" y="630.6" font-family="Liberation Sans, sans-serif" font-size="9.5" fill="#c2c2c2" text-anchor="middle">4</text>
<rect x="148.6" y="621.7" width="17" height="10.9" rx="2.2" fill="#fff" stroke="#a9a9a9" stroke-width="1.3"/><path d="M154.3 620 V621.7 M159.9 620 V621.7" stroke="#a9a9a9" stroke-width="1.3"/><text x="157.1" y="630.6" font-family="Liberation Sans, sans-serif" font-size="9.5" fill="#c2c2c2" text-anchor="middle">10</text>
<rect x="193.5" y="621.7" width="17" height="10.9" rx="2.2" fill="#fff" stroke="#a9a9a9" stroke-width="1.3"/><path d="M199.2 620 V621.7 M204.8 620 V621.7" stroke="#a9a9a9" stroke-width="1.3"/><text x="202" y="630.6" font-family="Liberation Sans, sans-serif" font-size="9.5" fill="#c2c2c2" text-anchor="middle">2</text>
<g opacity="0.45"><rect x="237.2" y="618" width="19.4" height="15" fill="#fff"/><rect x="237.2" y="618" width="19.4" height="1.2" fill="#e8333a"/><rect x="237.2" y="620.3" width="19.4" height="1.2" fill="#e8333a"/><rect x="237.2" y="622.6" width="19.4" height="1.2" fill="#e8333a"/><rect x="237.2" y="624.9" width="19.4" height="1.2" fill="#e8333a"/><rect x="237.2" y="627.2" width="19.4" height="1.2" fill="#e8333a"/><rect x="237.2" y="629.5" width="19.4" height="1.2" fill="#e8333a"/><rect x="237.2" y="631.8" width="19.4" height="1.2" fill="#e8333a"/><rect x="237.2" y="618" width="8.6" height="8.1" fill="#2f3f8f"/></g>
<rect x="283.3" y="621.7" width="17" height="10.9" rx="2.2" fill="#fff" stroke="#a9a9a9" stroke-width="1.3"/><path d="M289 620 V621.7 M294.6 620 V621.7" stroke="#a9a9a9" stroke-width="1.3"/><text x="291.8" y="630.6" font-family="Liberation Sans, sans-serif" font-size="9.5" fill="#c2c2c2" text-anchor="middle">3</text>
<rect x="328.2" y="621.7" width="17" height="10.9" rx="2.2" fill="#fff" stroke="#a9a9a9" stroke-width="1.3"/><path d="M333.9 620 V621.7 M339.5 620 V621.7" stroke="#a9a9a9" stroke-width="1.3"/><text x="336.7" y="630.6" font-family="Liberation Sans, sans-serif" font-size="9.5" fill="#c2c2c2" text-anchor="middle">9</text>
<g opacity="0.6"><clipPath id="uk"><rect x="371.8" y="618.4" width="19.6" height="14.6"/></clipPath><g clip-path="url(#uk)"><rect x="371.8" y="618.4" width="19.6" height="14.6" fill="#1c3f94"/><path d="M371.8 618.4 L391.4 633.0 M391.4 618.4 L371.8 633.0" stroke="#fff" stroke-width="3.4"/><path d="M371.8 618.4 L391.4 633.0 M391.4 618.4 L371.8 633.0" stroke="#d8202f" stroke-width="1.3"/><path d="M381.6 618.4 V633.0 M371.8 625.6999999999999 H391.4" stroke="#fff" stroke-width="5"/><path d="M381.6 618.4 V633.0 M371.8 625.6999999999999 H391.4" stroke="#d8202f" stroke-width="3"/></g></g>
<rect x="418" y="621.7" width="17" height="10.9" rx="2.2" fill="#fff" stroke="#a9a9a9" stroke-width="1.3"/><path d="M423.7 620 V621.7 M429.3 620 V621.7" stroke="#a9a9a9" stroke-width="1.3"/><text x="426.5" y="630.6" font-family="Liberation Sans, sans-serif" font-size="9.5" fill="#c2c2c2" text-anchor="middle">6</text>
<rect x="462.9" y="621.7" width="17" height="10.9" rx="2.2" fill="#fff" stroke="#a9a9a9" stroke-width="1.3"/><path d="M468.6 620 V621.7 M474.2 620 V621.7" stroke="#a9a9a9" stroke-width="1.3"/><text x="471.4" y="630.6" font-family="Liberation Sans, sans-serif" font-size="9.5" fill="#c2c2c2" text-anchor="middle">7</text>
<rect x="507.8" y="621.7" width="17" height="10.9" rx="2.2" fill="#fff" stroke="#a9a9a9" stroke-width="1.3"/><path d="M513.5 620 V621.7 M519.1 620 V621.7" stroke="#a9a9a9" stroke-width="1.3"/><text x="516.3" y="630.6" font-family="Liberation Sans, sans-serif" font-size="9.5" fill="#c2c2c2" text-anchor="middle">7</text>
<rect x="552.7" y="621.7" width="17" height="10.9" rx="2.2" fill="#fff" stroke="#a9a9a9" stroke-width="1.3"/><path d="M558.4 620 V621.7 M564 620 V621.7" stroke="#a9a9a9" stroke-width="1.3"/><text x="561.2" y="630.6" font-family="Liberation Sans, sans-serif" font-size="9.5" fill="#c2c2c2" text-anchor="middle">5</text>
<g opacity="0.45"><rect x="596.4" y="618" width="19.4" height="15" fill="#fff"/><rect x="596.4" y="618" width="19.4" height="1.2" fill="#e8333a"/><rect x="596.4" y="620.3" width="19.4" height="1.2" fill="#e8333a"/><rect x="596.4" y="622.6" width="19.4" height="1.2" fill="#e8333a"/><rect x="596.4" y="624.9" width="19.4" height="1.2" fill="#e8333a"/><rect x="596.4" y="627.2" width="19.4" height="1.2" fill="#e8333a"/><rect x="596.4" y="629.5" width="19.4" height="1.2" fill="#e8333a"/><rect x="596.4" y="631.8" width="19.4" height="1.2" fill="#e8333a"/><rect x="596.4" y="618" width="8.6" height="8.1" fill="#2f3f8f"/></g>
<rect x="642.5" y="621.7" width="17" height="10.9" rx="2.2" fill="#fff" stroke="#a9a9a9" stroke-width="1.3"/><path d="M648.2 620 V621.7 M653.8 620 V621.7" stroke="#a9a9a9" stroke-width="1.3"/><text x="651" y="630.6" font-family="Liberation Sans, sans-serif" font-size="9.5" fill="#c2c2c2" text-anchor="middle">11</text>
<rect x="687.4" y="621.7" width="17" height="10.9" rx="2.2" fill="#fff" stroke="#a9a9a9" stroke-width="1.3"/><path d="M693.1 620 V621.7 M698.7 620 V621.7" stroke="#a9a9a9" stroke-width="1.3"/><text x="695.9" y="630.6" font-family="Liberation Sans, sans-serif" font-size="9.5" fill="#c2c2c2" text-anchor="middle">8</text>
<rect x="732.3" y="621.7" width="17" height="10.9" rx="2.2" fill="#fff" stroke="#a9a9a9" stroke-width="1.3"/><path d="M738 620 V621.7 M743.6 620 V621.7" stroke="#a9a9a9" stroke-width="1.3"/><text x="740.8" y="630.6" font-family="Liberation Sans, sans-serif" font-size="9.5" fill="#c2c2c2" text-anchor="middle">5</text>
<rect x="777.2" y="621.7" width="17" height="10.9" rx="2.2" fill="#fff" stroke="#a9a9a9" stroke-width="1.3"/><path d="M782.9 620 V621.7 M788.5 620 V621.7" stroke="#a9a9a9" stroke-width="1.3"/><text x="785.7" y="630.6" font-family="Liberation Sans, sans-serif" font-size="9.5" fill="#c2c2c2" text-anchor="middle">8</text>
<rect x="822.1" y="621.7" width="17" height="10.9" rx="2.2" fill="#fff" stroke="#a9a9a9" stroke-width="1.3"/><path d="M827.8 620 V621.7 M833.4 620 V621.7" stroke="#a9a9a9" stroke-width="1.3"/><text x="830.6" y="630.6" font-family="Liberation Sans, sans-serif" font-size="9.5" fill="#c2c2c2" text-anchor="middle">4</text>
<rect x="4" y="408" width="245" height="17" fill="#fff" opacity="0.8"/>
<text x="7.1" y="420.2" font-family="Liberation Sans, sans-serif" font-size="10" font-weight="bold" fill="#333" textLength="28.5">VWAP</text>
<text x="39.6" y="420.2" font-family="Liberation Sans, sans-serif" font-size="10" fill="#333" textLength="36.4">20 1 2 3</text>
<g transform="translate(86.8 416.6)" fill="#8f8f8f"><rect x="-1.3" y="-5.2" width="2.6" height="10.4" transform="rotate(0.0)"/><rect x="-1.3" y="-5.2" width="2.6" height="10.4" transform="rotate(45.0)"/><rect x="-1.3" y="-5.2" width="2.6" height="10.4" transform="rotate(90.0)"/><rect x="-1.3" y="-5.2" width="2.6" height="10.4" transform="rotate(135.0)"/><circle r="3.9000000000000004"/><circle r="2.0" fill="#fff"/></g>
<path d="M100.2 413.2 L107.39999999999999 420.40000000000003 M107.39999999999999 413.2 L100.2 420.40000000000003" stroke="#8f8f8f" stroke-width="2.3"/>
<text x="122" y="420.2" font-family="Liberation Sans, sans-serif" font-size="10" font-weight="bold" fill="#333" textLength="64.1">AUTO TREND</text>
<text x="189.3" y="420.2" font-family="Liberation Sans, sans-serif" font-size="10" fill="#333" textLength="21.9">3 3 1</text>
<g transform="translate(223.4 416.6)" fill="#8f8f8f"><rect x="-1.3" y="-5.2" width="2.6" height="10.4" transform="rotate(0.0)"/><rect x="-1.3" y="-5.2" width="2.6" height="10.4" transform="rotate(45.0)"/><rect x="-1.3" y="-5.2" width="2.6" height="10.4" transform="rotate(90.0)"/><rect x="-1.3" y="-5.2" width="2.6" height="10.4" transform="rotate(135.0)"/><circle r="3.9000000000000004"/><circle r="2.0" fill="#fff"/></g>
<path d="M236.70000000000002 413.2 L243.9 420.40000000000003 M243.9 413.2 L236.70000000000002 420.40000000000003" stroke="#8f8f8f" stroke-width="2.3"/>
<rect x="4" y="489" width="92" height="17" fill="#fff" opacity="0.8"/>
<text x="7.5" y="500.8" font-family="Liberation Sans, sans-serif" font-size="10" font-weight="bold" fill="#333" textLength="15.5">RSI</text>
<text x="26.7" y="500.8" font-family="Liberation Sans, sans-serif" font-size="10" fill="#333" textLength="10">14</text>
<g transform="translate(47.6 497.2)" fill="#8f8f8f"><rect x="-1.3" y="-5.2" width="2.6" height="10.4" transform="rotate(0.0)"/><rect x="-1.3" y="-5.2" width="2.6" height="10.4" transform="rotate(45.0)"/><rect x="-1.3" y="-5.2" width="2.6" height="10.4" transform="rotate(90.0)"/><rect x="-1.3" y="-5.2" width="2.6" height="10.4" transform="rotate(135.0)"/><circle r="3.9000000000000004"/><circle r="2.0" fill="#fff"/></g>
<path d="M61.1 493.79999999999995 L68.3 501.0 M68.3 493.79999999999995 L61.1 501.0" stroke="#8f8f8f" stroke-width="2.3"/>
<path d="M86.3 503 V491.6 M81.2 496.6 L86.3 491.4 L91.4 496.6" fill="none" stroke="#444" stroke-width="1.2"/>
</svg>
</body></html>
